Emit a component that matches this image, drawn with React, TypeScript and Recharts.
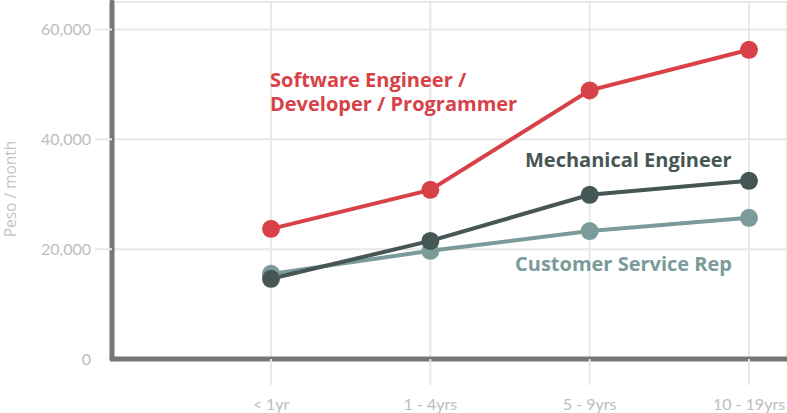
import { LineChart, Line, XAxis, YAxis, CartesianGrid } from 'recharts';

const years = ['< 1yr', '1 - 4yrs', '5 - 9yrs', '10 - 19yrs'];
const software = [23700, 30800, 48900, 56300];
const mechanical = [14600, 21500, 29900, 32450];
const customer = [15500, 19700, 23300, 25700];
const yTicks = [0, 20000, 40000, 60000];

const data = years.map((y, i) => ({
  year: y,
  software: software[i],
  mechanical: mechanical[i],
  customer: customer[i],
}));

const RED = '#d94148';
const DARK = '#455655';
const TEAL = '#7b9a9a';
const GRID = '#e8e8e8';

const label = (color: string) => ({
  position: 'absolute' as const,
  color,
  fontFamily: '"Open Sans", sans-serif',
  fontWeight: 700,
  fontSize: 20,
  lineHeight: '24px',
  whiteSpace: 'nowrap' as const,
});

const YLabel = () => (
  <text
    x={16}
    y={189}
    transform="rotate(-90 16 189)"
    textAnchor="middle"
    fill="#c4c4c4"
    fontSize={15.5}
    fontFamily='"Open Sans", sans-serif'
  >
    Peso / month
  </text>
);

// y tick: grid stub left of the axis (none at 0), then the value
const YTick = (props: any) => {
  const { x, y, payload } = props;
  return (
    <g>
      {payload.value !== 0 && <line x1={x + 4} x2={x + 21} y1={y} y2={y} stroke={GRID} strokeWidth={2} />}
      <text x={x} y={y} dy="0.355em" textAnchor="end" fill="#bdbdbd" fontSize={16} fontFamily="Lato, sans-serif">
        {payload.value.toLocaleString('en-US')}
      </text>
    </g>
  );
};

export default function App() {
  return (
    <div style={{ position: 'absolute', left: 0, top: 0, width: 787, height: 413, background: '#fff' }}>
      <LineChart width={787} height={413} data={data} margin={{ top: 2, right: 0, bottom: 0, left: 0 }}>
        <CartesianGrid stroke={GRID} strokeWidth={2} />
        <XAxis
          dataKey="year"
          padding={{ left: 159, right: 38 }}
          axisLine={{ stroke: '#777', strokeWidth: 5, strokeLinecap: 'round' }}
          tickLine={{ stroke: GRID, strokeWidth: 2 }}
          tickSize={26}
          tickMargin={14}
          height={54}
          tick={{ fill: '#bdbdbd', fontSize: 16, fontFamily: 'Lato, sans-serif' }}
        />
        <YAxis
          domain={[0, 65000]}
          ticks={yTicks}
          width={112}
          axisLine={{ stroke: '#777', strokeWidth: 5, strokeLinecap: 'round' }}
          tickLine={false}
          tickSize={17}
          tickMargin={4}
          tick={YTick}
          label={{ content: YLabel }}
        />
        <Line dataKey="customer" stroke={TEAL} strokeWidth={4} dot={{ r: 9, fill: TEAL, stroke: 'none' }} isAnimationActive={false} />
        <Line dataKey="mechanical" stroke={DARK} strokeWidth={4} dot={{ r: 9, fill: DARK, stroke: 'none' }} isAnimationActive={false} />
        <Line dataKey="software" stroke={RED} strokeWidth={4} dot={{ r: 9, fill: RED, stroke: 'none' }} isAnimationActive={false} />
      </LineChart>
      <div style={{ ...label(RED), left: 270, top: 68 }}>Software Engineer /</div>
      <div style={{ ...label(RED), left: 270, top: 92 }}>Developer / Programmer</div>
      <div style={{ ...label(DARK), left: 525, top: 148 }}>Mechanical Engineer</div>
      <div style={{ ...label(TEAL), left: 515, top: 252 }}>Customer Service Rep</div>
    </div>
  );
}
